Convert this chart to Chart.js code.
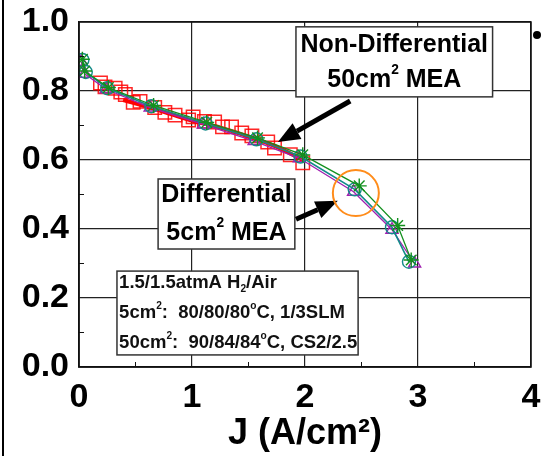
<!DOCTYPE html>
<html>
<head>
<meta charset="utf-8">
<script src="https://cdn.jsdelivr.net/npm/chart.js@4.4.0/dist/chart.umd.min.js"></script>
<style>
html,body{margin:0;padding:0;background:#fff;}
canvas{display:block;}
</style>
</head>
<body>
<canvas id="mycanvas" width="542" height="456"></canvas>
<script>
// 50cm2 non-differential cell (red squares + red fit line)
var jRed = [0.19, 0.23, 0.32, 0.37, 0.41, 0.48, 0.54, 0.67, 0.76, 0.85, 0.97, 1.01, 1.11, 1.20, 1.27, 1.35, 1.44, 1.53, 1.67, 1.73, 1.87, 1.98];
var vRed = [0.823, 0.812, 0.808, 0.797, 0.790, 0.767, 0.770, 0.752, 0.738, 0.730, 0.716, 0.725, 0.712, 0.710, 0.696, 0.696, 0.678, 0.670, 0.652, 0.635, 0.615, 0.592];
var jRedLine = [0.39, 0.70, 0.98, 1.25, 1.50, 1.75, 1.98];
var vRedLine = [0.774, 0.745, 0.716, 0.694, 0.668, 0.638, 0.600];

// 5cm2 differential cell, repeated runs
var jDiffA = [0.02, 0.05, 0.24, 0.63, 1.10, 1.55, 1.95, 2.43, 2.77, 2.97];
var vDiffA = [0.885, 0.850, 0.805, 0.752, 0.703, 0.655, 0.605, 0.508, 0.398, 0.300];
var jDiffB = [0.03, 0.06, 0.25, 0.64, 1.12, 1.57, 1.96, 2.44, 2.77, 2.92];
var vDiffB = [0.890, 0.855, 0.808, 0.756, 0.706, 0.660, 0.610, 0.515, 0.405, 0.305];
var jDiffC = [0.03, 0.05, 0.26, 0.66, 1.13, 1.58, 1.98, 2.48, 2.82, 2.94];
var vDiffC = [0.892, 0.858, 0.810, 0.758, 0.709, 0.664, 0.615, 0.525, 0.410, 0.310];

var xTicks = [0, 1, 2, 3, 4];
var yTicks = [0.0, 0.2, 0.4, 0.6, 0.8, 1.0];

var FONT = "'Liberation Sans', Arial, sans-serif";

function pts(xs, ys) {
	var out = [];
	for (var i = 0; i < xs.length; i++) out.push({x: xs[i], y: ys[i]});
	return out;
}

// draws text pieces with super/subscripts, mode 1 = sup, -1 = sub
function richText(ctx, parts, x, y, size, align) {
	var total = 0, i, f;
	for (i = 0; i < parts.length; i++) {
		f = parts[i][1] ? size * 0.55 : size;
		ctx.font = 'bold ' + f + 'px ' + FONT;
		total += ctx.measureText(parts[i][0]).width;
	}
	var cx = align === 'center' ? x - total / 2 : x;
	ctx.textAlign = 'left';
	ctx.textBaseline = 'middle';
	for (i = 0; i < parts.length; i++) {
		var mode = parts[i][1];
		f = mode ? size * 0.55 : size;
		ctx.font = 'bold ' + f + 'px ' + FONT;
		var dy = mode === 1 ? -size * 0.38 : (mode === -1 ? size * 0.3 : 0);
		ctx.fillText(parts[i][0], cx, y + dy);
		cx += ctx.measureText(parts[i][0]).width;
	}
}

function arrow(ctx, x0, y0, x1, y1) {
	var a = Math.atan2(y1 - y0, x1 - x0);
	var hl = 22, hw = 9;
	var bx = x1 - hl * Math.cos(a), by = y1 - hl * Math.sin(a);
	ctx.strokeStyle = '#000';
	ctx.lineWidth = 5;
	ctx.beginPath();
	ctx.moveTo(x0, y0);
	ctx.lineTo(bx, by);
	ctx.stroke();
	ctx.fillStyle = '#000';
	ctx.beginPath();
	ctx.moveTo(x1, y1);
	ctx.lineTo(bx + hw * Math.sin(a), by - hw * Math.cos(a));
	ctx.lineTo(bx - hw * Math.sin(a), by + hw * Math.cos(a));
	ctx.closePath();
	ctx.fill();
}

function box(ctx, xs, ys, x1, y1, x2, y2) {
	var l = xs.getPixelForValue(x1), r = xs.getPixelForValue(x2);
	var t = ys.getPixelForValue(y1), b = ys.getPixelForValue(y2);
	ctx.fillStyle = '#fff';
	ctx.fillRect(l, t, r - l, b - t);
	ctx.strokeStyle = '#333';
	ctx.lineWidth = 1.5;
	ctx.strokeRect(l, t, r - l, b - t);
}

var notes = {
	id: 'notes',
	afterDraw: function(chart) {
		var ctx = chart.ctx, xs = chart.scales.x, ys = chart.scales.y, ca = chart.chartArea;
		ctx.save();

		// frame on all four sides
		ctx.strokeStyle = '#111';
		ctx.lineWidth = 1.5;
		ctx.strokeRect(ca.left, ca.top, ca.right - ca.left, ca.bottom - ca.top);

		// minor ticks, pointing inward
		ctx.lineWidth = 1;
		ctx.beginPath();
		for (var v = 0.1; v < 1; v += 0.2) {
			var py = ys.getPixelForValue(v);
			ctx.moveTo(ca.left, py); ctx.lineTo(ca.left + 5, py);
		}
		for (var u = 0.5; u < 4; u += 1) {
			var px = xs.getPixelForValue(u);
			ctx.moveTo(px, ca.bottom); ctx.lineTo(px, ca.bottom - 5);
		}
		ctx.stroke();

		// Non-Differential label
		box(ctx, xs, ys, 1.92, 0.986, 3.66, 0.783);
		ctx.fillStyle = '#000';
		var cx1 = xs.getPixelForValue(2.79);
		richText(ctx, [['Non-Differential', 0]], cx1, ys.getPixelForValue(0.934), 25, 'center');
		richText(ctx, [['50cm', 0], ['2', 1], [' MEA', 0]], cx1, ys.getPixelForValue(0.832), 25, 'center');
		arrow(ctx, xs.getPixelForValue(2.40), ys.getPixelForValue(0.771), xs.getPixelForValue(1.76), ys.getPixelForValue(0.652));

		// Differential label
		box(ctx, xs, ys, 0.70, 0.545, 1.91, 0.342);
		ctx.fillStyle = '#000';
		var cx2 = xs.getPixelForValue(1.305);
		richText(ctx, [['Differential', 0]], cx2, ys.getPixelForValue(0.498), 25, 'center');
		richText(ctx, [['5cm', 0], ['2', 1], [' MEA', 0]], cx2, ys.getPixelForValue(0.388), 25, 'center');
		arrow(ctx, xs.getPixelForValue(1.92), ys.getPixelForValue(0.428), xs.getPixelForValue(2.29), ys.getPixelForValue(0.482));

		// orange ring round the 2.45 A/cm2 point
		ctx.strokeStyle = '#ff8c1a';
		ctx.lineWidth = 2;
		ctx.beginPath();
		ctx.arc(xs.getPixelForValue(2.45), ys.getPixelForValue(0.504), 23, 0, Math.PI * 2);
		ctx.stroke();

		// test conditions
		box(ctx, xs, ys, 0.336, 0.278, 2.47, 0.035);
		ctx.fillStyle = '#111';
		var lx = xs.getPixelForValue(0.355);
		richText(ctx, [['1.5/1.5atmA H', 0], ['2', -1], ['/Air', 0]], lx, ys.getPixelForValue(0.243), 18.5, 'left');
		richText(ctx, [['5cm', 0], ['2', 1], [':  80/80/80', 0], ['o', 1], ['C, 1/3SLM', 0]], lx, ys.getPixelForValue(0.157), 18.5, 'left');
		richText(ctx, [['50cm', 0], ['2', 1], [':  90/84/84', 0], ['o', 1], ['C, CS2/2.5', 0]], lx, ys.getPixelForValue(0.070), 18.5, 'left');

		// slide leftovers: left rule and bullet
		ctx.fillStyle = '#000';
		ctx.fillRect(2, 0, 2, chart.height);
		ctx.beginPath();
		ctx.arc(537, 35, 4, 0, Math.PI * 2);
		ctx.fill();

		ctx.restore();
	}
};

var ctx = document.getElementById('mycanvas');

var chart = new Chart(ctx, {
	type: 'scatter',
	data: {
		datasets: [
			{
				label: '50cm2 data',
				data: pts(jRed, vRed),
				showLine: false,
				pointStyle: 'rect',
				pointRadius: 9.5,
				pointBorderWidth: 1.5,
				borderColor: 'rgba(255,0,0,0.85)',
				backgroundColor: 'transparent',
				order: 6
			},
			{
				label: '50cm2 line',
				data: pts(jRedLine, vRedLine),
				showLine: true,
				borderColor: '#ff0000',
				borderWidth: 4,
				pointRadius: 0,
				tension: 0.3,
				order: 5
			},
			{
				label: 'diff A',
				data: pts(jDiffA, vDiffA),
				showLine: true,
				borderColor: '#a020b0',
				borderWidth: 1.3,
				pointStyle: 'triangle',
				pointRadius: 7,
				pointBorderWidth: 1.4,
				backgroundColor: 'transparent',
				order: 3
			},
			{
				label: 'diff B',
				data: pts(jDiffB, vDiffB),
				showLine: true,
				borderColor: '#128a8a',
				borderWidth: 1.6,
				pointStyle: 'circle',
				pointRadius: 6.5,
				pointBorderWidth: 1.4,
				backgroundColor: 'transparent',
				order: 2
			},
			{
				label: 'diff C',
				data: pts(jDiffC, vDiffC),
				showLine: true,
				borderColor: '#13901e',
				borderWidth: 1.3,
				pointStyle: 'star',
				pointRadius: 7.5,
				pointBorderWidth: 1.4,
				backgroundColor: 'transparent',
				order: 1
			}
		]
	},
	options: {
		responsive: false,
		devicePixelRatio: 1,
		animation: false,
		layout: {padding: {top: 22, right: 11, left: 0, bottom: 0}},
		plugins: {
			legend: {display: false},
			tooltip: {enabled: false}
		},
		scales: {
			x: {
				type: 'linear',
				min: 0,
				max: 4,
				afterBuildTicks: function(s) { s.ticks = xTicks.map(function(v) { return {value: v}; }); },
				afterFit: function(s) {
					s.height = 89;
					s.paddingLeft = 0; s.paddingRight = 0;
				},
				ticks: {
					color: '#000',
					padding: 10,
					font: {family: FONT, size: 34, weight: 'bold'},
					callback: function(v) { return String(v); }
				},
				grid: {color: '#222', lineWidth: 1.2, drawTicks: false},
				border: {color: '#111', width: 1.5},
				title: {
					display: true,
					text: 'J (A/cm\u00B2)',
					color: '#000',
					font: {family: FONT, size: 36, weight: 'bold'},
					padding: {top: 0, bottom: 0}
				}
			},
			y: {
				min: 0,
				max: 1,
				afterBuildTicks: function(s) { s.ticks = yTicks.map(function(v) { return {value: v}; }); },
				afterFit: function(s) {
					s.width = 79;
					s.paddingTop = 0; s.paddingBottom = 0;
				},
				ticks: {
					color: '#000',
					padding: 10,
					font: {family: FONT, size: 34, weight: 'bold'},
					callback: function(v) { return v.toFixed(1); }
				},
				grid: {color: '#222', lineWidth: 1.2, drawTicks: false},
				border: {color: '#111', width: 1.5}
			}
		}
	},
	plugins: [notes]
});
</script>
</body>
</html>
